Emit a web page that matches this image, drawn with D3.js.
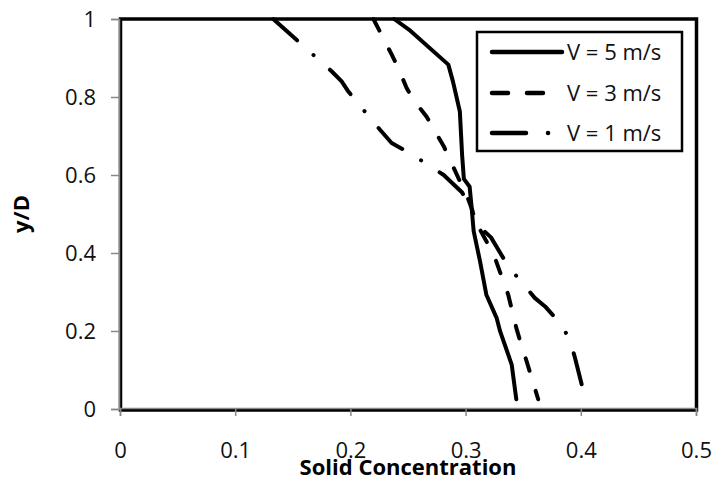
<!DOCTYPE html>
<html>
<head>
<meta charset="utf-8">
<script src="https://cdn.jsdelivr.net/npm/d3@7"></script>
<style>
  html, body { margin: 0; padding: 0; background: #fff; }
  svg { display: block; font-family: "Open Sans", sans-serif; }
</style>
</head>
<body>
<svg id="chart" width="713" height="481"></svg>
<script>
// Concentration profiles across the pipe (y/D) at three flow velocities
const conc5 = [0.238, 0.252, 0.285, 0.289, 0.295, 0.297, 0.2985, 0.3035, 0.305, 0.307, 0.3125, 0.318, 0.327, 0.330, 0.340, 0.344];
const yD5   = [1.0, 0.97, 0.883, 0.84, 0.763, 0.65, 0.59, 0.57, 0.524, 0.456, 0.379, 0.293, 0.233, 0.199, 0.114, 0.025];

const conc3 = [0.220, 0.236, 0.2416, 0.2488, 0.2546, 0.266, 0.281, 0.295, 0.3024, 0.311, 0.3197, 0.3255, 0.337, 0.344, 0.3487, 0.353, 0.363];
const yD3   = [1.0, 0.908, 0.874, 0.823, 0.793, 0.75, 0.674, 0.584, 0.537, 0.468, 0.421, 0.387, 0.293, 0.208, 0.161, 0.122, 0.025];

const conc1 = [0.133, 0.1837, 0.1924, 0.198, 0.204, 0.2257, 0.2358, 0.2517, 0.281, 0.297, 0.305, 0.313, 0.322, 0.337, 0.360, 0.369, 0.382, 0.3906, 0.395, 0.404];
const yD1   = [1.0, 0.866, 0.840, 0.815, 0.793, 0.716, 0.682, 0.656, 0.60, 0.555, 0.51, 0.465, 0.44, 0.366, 0.285, 0.263, 0.22, 0.178, 0.131, 0.025];

const seriesNames = ["V = 5 m/s", "V = 3 m/s", "V = 1 m/s"];
const xTicks = [0, 0.1, 0.2, 0.3, 0.4, 0.5];
const yTicks = [0, 0.2, 0.4, 0.6, 0.8, 1];

const series = [
  { name: seriesNames[0], x: conc5, y: yD5, dash: null, legendDash: null, legendEnd: 562 },
  { name: seriesNames[1], x: conc3, y: yD3, dash: "13,21", legendDash: "16,19", legendEnd: 547 },
  { name: seriesNames[2], x: conc1, y: yD1, dash: "32,22,0.1,22", legendDash: "34,22,0.1,22", legendEnd: 552 }
];

const svg = d3.select("#chart");
const plotL = 120, plotR = 696, plotT = 19, plotB = 409;

const x = d3.scaleLinear().domain([0, 0.5]).range([plotL, plotR]);
const y = d3.scaleLinear().domain([0, 1]).range([plotB, plotT]);

// plot area frame
svg.append("rect")
  .attr("x", plotL + 0.5).attr("y", plotT)
  .attr("width", plotR - plotL).attr("height", plotB - plotT + 1)
  .attr("fill", "#fff").attr("stroke", "#000").attr("stroke-width", 3.5);

// axes
const xAxis = d3.axisBottom(x).tickValues(xTicks).tickSize(8).tickFormat(d3.format("~g"));
const yAxis = d3.axisLeft(y).tickValues(yTicks).tickSize(8).tickFormat(d3.format("~g"));

const gx = svg.append("g").attr("transform", `translate(0,${plotB - 1})`).call(xAxis);
const gy = svg.append("g").attr("transform", `translate(${plotL - 1},0)`).call(yAxis);

[gx, gy].forEach(g => {
  g.select(".domain").attr("stroke", "#888").attr("stroke-width", 1.5);
  g.selectAll(".tick line").attr("stroke", "#888").attr("stroke-width", 1.5);
  g.selectAll(".tick text")
    .attr("fill", "#111")
    .style("font-family", "'Open Sans', sans-serif")
    .style("font-size", "22px");
});
gx.selectAll(".tick text").attr("y", 0).attr("dy", null).attr("transform", "translate(0,50)");
gy.selectAll(".tick text").attr("x", -23).attr("dy", "0.35em");

// axis titles
svg.append("text")
  .attr("x", (plotL + plotR) / 2).attr("y", 475)
  .attr("text-anchor", "middle")
  .style("font-size", "22px").style("font-weight", "bold")
  .text("Solid Concentration");

svg.append("text")
  .attr("transform", `translate(29,${(plotT + plotB) / 2}) rotate(-90)`)
  .attr("text-anchor", "middle")
  .style("font-size", "22px").style("font-weight", "bold")
  .text("y/D");

// profile lines
const line = d3.line().x(d => x(d[0])).y(d => y(d[1]));
series.forEach(s => {
  const pts = s.x.map((v, i) => [v, s.y[i]]);
  svg.append("path")
    .datum(pts)
    .attr("d", line)
    .attr("fill", "none")
    .attr("stroke", "#000")
    .attr("stroke-width", 4)
    .attr("stroke-linejoin", "round")
    .attr("stroke-linecap", "round")
    .attr("stroke-dasharray", s.dash);
});

// legend
const lg = svg.append("g");
lg.append("rect")
  .attr("x", 477).attr("y", 32).attr("width", 205).attr("height", 119)
  .attr("fill", "#fff").attr("stroke", "#000").attr("stroke-width", 2.5);

const rowY = [52, 93, 133];
series.forEach((s, i) => {
  lg.append("line")
    .attr("x1", 492).attr("x2", s.legendEnd)
    .attr("y1", rowY[i]).attr("y2", rowY[i])
    .attr("stroke", "#000").attr("stroke-width", 4.5)
    .attr("stroke-linecap", "round")
    .attr("stroke-dasharray", s.legendDash);
  lg.append("text")
    .attr("x", 567).attr("y", rowY[i]).attr("dy", "0.36em")
    .attr("fill", "#111")
    .style("font-size", "22px")
    .text(s.name);
});
</script>
</body>
</html>
